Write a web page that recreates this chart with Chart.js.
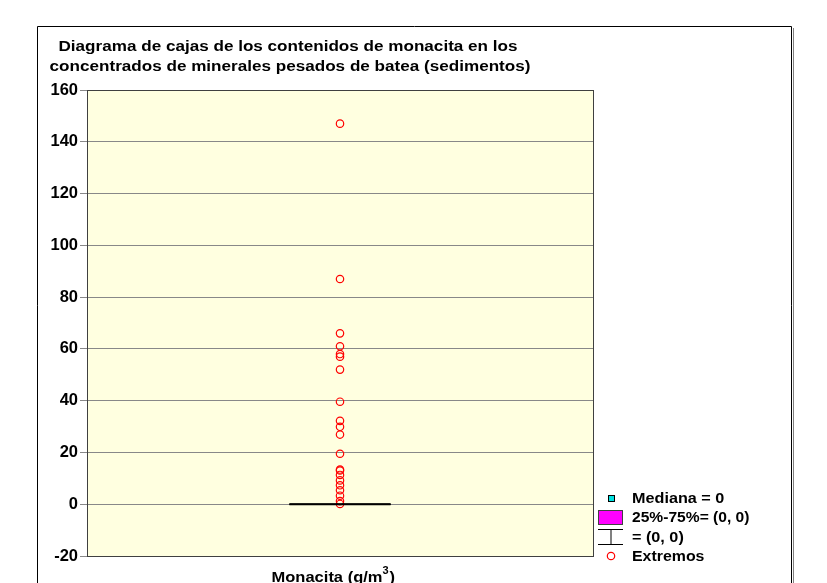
<!DOCTYPE html>
<html>
<head>
<meta charset="utf-8">
<script src="https://cdn.jsdelivr.net/npm/chart.js@4.4.1/dist/chart.umd.min.js"></script>
<style>
	html, body { margin: 0; padding: 0; background: #fff; }
	#wrap { width: 827px; height: 583px; position: relative; }
</style>
</head>
<body>
<div id="wrap"><canvas id="boxChart" width="827" height="583"></canvas></div>
<script>
// valores (g/m3)
var extremos = [147, 87, 66, 61, 58, 57, 52, 39.6, 32.2, 29.9, 26.9, 19.5, 13.4, 13, 11.3, 9.2, 7.3, 5.4, 3.3, 1.2, 0.1];
var mediana = [0];
var cuartiles = [0, 0];   // 25%, 75%
var bigotes = [0, 0];     // min, max sin extremos
var yTicks = [-20, 0, 20, 40, 60, 80, 100, 120, 140, 160];

var titleLines = ["Diagrama de cajas de los contenidos de monacita en los", "concentrados de minerales pesados de batea (sedimentos)"];
var legendLabels = ["Mediana = 0", "25%-75%= (0, 0)", "= (0, 0)", "Extremos"];

var fontFam = "'Liberation Sans', Arial, sans-serif";

// texto algo ensanchado, como en el original
function wideText(ctx, txt, x, y, sx, align) {
	ctx.save();
	ctx.translate(x, y);
	ctx.scale(sx, 1);
	ctx.textAlign = align;
	ctx.fillText(txt, 0, 0);
	ctx.restore();
}

const framePlugin = {
	id: 'framePlugin',
	beforeDraw(chart) {
		const ctx = chart.ctx, a = chart.chartArea;
		ctx.save();
		ctx.fillStyle = '#fff';
		ctx.fillRect(0, 0, chart.width, chart.height);
		// marco exterior
		ctx.strokeStyle = '#000';
		ctx.lineWidth = 1;
		ctx.beginPath();
		ctx.moveTo(37.5, 600); ctx.lineTo(37.5, 26.5); ctx.lineTo(791.5, 26.5); ctx.lineTo(791.5, 600);
		ctx.stroke();
		ctx.strokeStyle = '#808080';
		ctx.beginPath(); ctx.moveTo(793.5, 28); ctx.lineTo(793.5, 600); ctx.stroke();
		ctx.fillStyle = '#ffffe0';
		ctx.fillRect(a.left, a.top, a.right - a.left, a.bottom - a.top);
		ctx.restore();
	},
	afterDraw(chart) {
		const ctx = chart.ctx, a = chart.chartArea;
		ctx.save();
		ctx.strokeStyle = '#404040';
		ctx.lineWidth = 1;
		ctx.strokeRect(Math.round(a.left) + 0.5, Math.round(a.top) + 0.5, Math.round(a.right - a.left), Math.round(a.bottom - a.top));
		ctx.fillStyle = '#000';
		ctx.textBaseline = 'middle';
		ctx.font = 'bold 15px ' + fontFam;
		wideText(ctx, titleLines[0], 288, 47, 1.14, 'center');
		wideText(ctx, titleLines[1], 290, 67, 1.14, 'center');
		// eje x
		const cx = (a.left + a.right) / 2;
		const w = ctx.measureText('Monacita (g/m').width * 1.1;
		const x0 = cx - w / 2 - 13;
		wideText(ctx, 'Monacita (g/m', x0, 578, 1.1, 'left');
		ctx.font = 'bold 10px ' + fontFam;
		wideText(ctx, '3', x0 + w, 571, 1.1, 'left');
		ctx.font = 'bold 15px ' + fontFam;
		wideText(ctx, ')', x0 + w + 7, 578, 1.1, 'left');

		// leyenda
		const lx = 611, tx = 632;
		ctx.fillStyle = '#00e0e0';
		ctx.fillRect(lx - 3, 495, 7, 7);
		ctx.strokeStyle = '#000';
		ctx.strokeRect(lx - 2.5, 495.5, 6, 6);
		ctx.fillStyle = '#ff00ff';
		ctx.fillRect(598, 510, 25, 15);
		ctx.strokeStyle = '#404040';
		ctx.strokeRect(598.5, 510.5, 24, 14);
		ctx.strokeStyle = '#000';
		ctx.beginPath();
		ctx.moveTo(598, 529.5); ctx.lineTo(623, 529.5);
		ctx.moveTo(598, 544.5); ctx.lineTo(623, 544.5);
		ctx.stroke();
		ctx.strokeStyle = '#808080';
		ctx.lineWidth = 2;
		ctx.beginPath(); ctx.moveTo(lx, 530); ctx.lineTo(lx, 544); ctx.stroke();
		ctx.strokeStyle = '#ff0000';
		ctx.lineWidth = 1.2;
		ctx.beginPath(); ctx.arc(lx, 556, 3.7, 0, Math.PI * 2); ctx.stroke();
		ctx.fillStyle = '#000';
		ctx.font = 'bold 15px ' + fontFam;
		wideText(ctx, legendLabels[0], tx, 499, 1.08, 'left');
		wideText(ctx, legendLabels[1], tx, 518, 1.04, 'left');
		wideText(ctx, legendLabels[2], tx, 538, 1.08, 'left');
		wideText(ctx, legendLabels[3], tx, 557, 1.06, 'left');
		ctx.restore();
	}
};

const halfW = 0.2;
const boxData = [
	{x: -halfW, y: cuartiles[0]}, {x: halfW, y: cuartiles[0]},
	{x: halfW, y: cuartiles[1]}, {x: -halfW, y: cuartiles[1]}, {x: -halfW, y: cuartiles[0]}
];

new Chart(document.getElementById('boxChart'), {
	type: 'scatter',
	data: {
		datasets: [
			{
				type: 'line',
				data: boxData,
				borderColor: '#000',
				borderWidth: 1,
				pointRadius: 0,
				fill: false
			},
			{
				type: 'line',
				data: [{x: 0, y: bigotes[0]}, {x: 0, y: bigotes[1]}],
				borderColor: '#808080',
				borderWidth: 1,
				pointRadius: 0
			},
			{
				type: 'line',
				data: [{x: -halfW, y: mediana[0]}, {x: halfW, y: mediana[0]}],
				borderColor: '#000',
				borderWidth: 2,
				pointRadius: 0
			},
			{
				data: extremos.map(v => ({x: 0, y: v})),
				pointStyle: 'circle',
				pointRadius: 3.7,
				pointBorderColor: '#ff0000',
				pointBackgroundColor: 'rgba(0,0,0,0)',
				pointBorderWidth: 1.2
			}
		]
	},
	options: {
		responsive: false,
		animation: false,
		events: [],
		layout: { padding: { left: 0, top: 90, right: 234, bottom: 27 } },
		plugins: { legend: { display: false }, title: { display: false }, tooltip: { enabled: false } },
		scales: {
			x: { type: 'linear', min: -1, max: 1, display: false },
			y: {
				type: 'linear',
				min: yTicks[0],
				max: yTicks[yTicks.length - 1],
				afterBuildTicks: scale => { scale.ticks = yTicks.map(v => ({value: v})); },
				afterFit: scale => { scale.width = 87; },
				grid: { color: '#888888', lineWidth: 1, tickLength: 7, drawTicks: true },
				border: { display: true, color: '#808080' },
				ticks: {
					color: '#000',
					padding: 2,
					font: { family: fontFam, size: 16.5, weight: 'bold' }
				}
			}
		}
	},
	plugins: [framePlugin]
});
</script>
</body>
</html>
